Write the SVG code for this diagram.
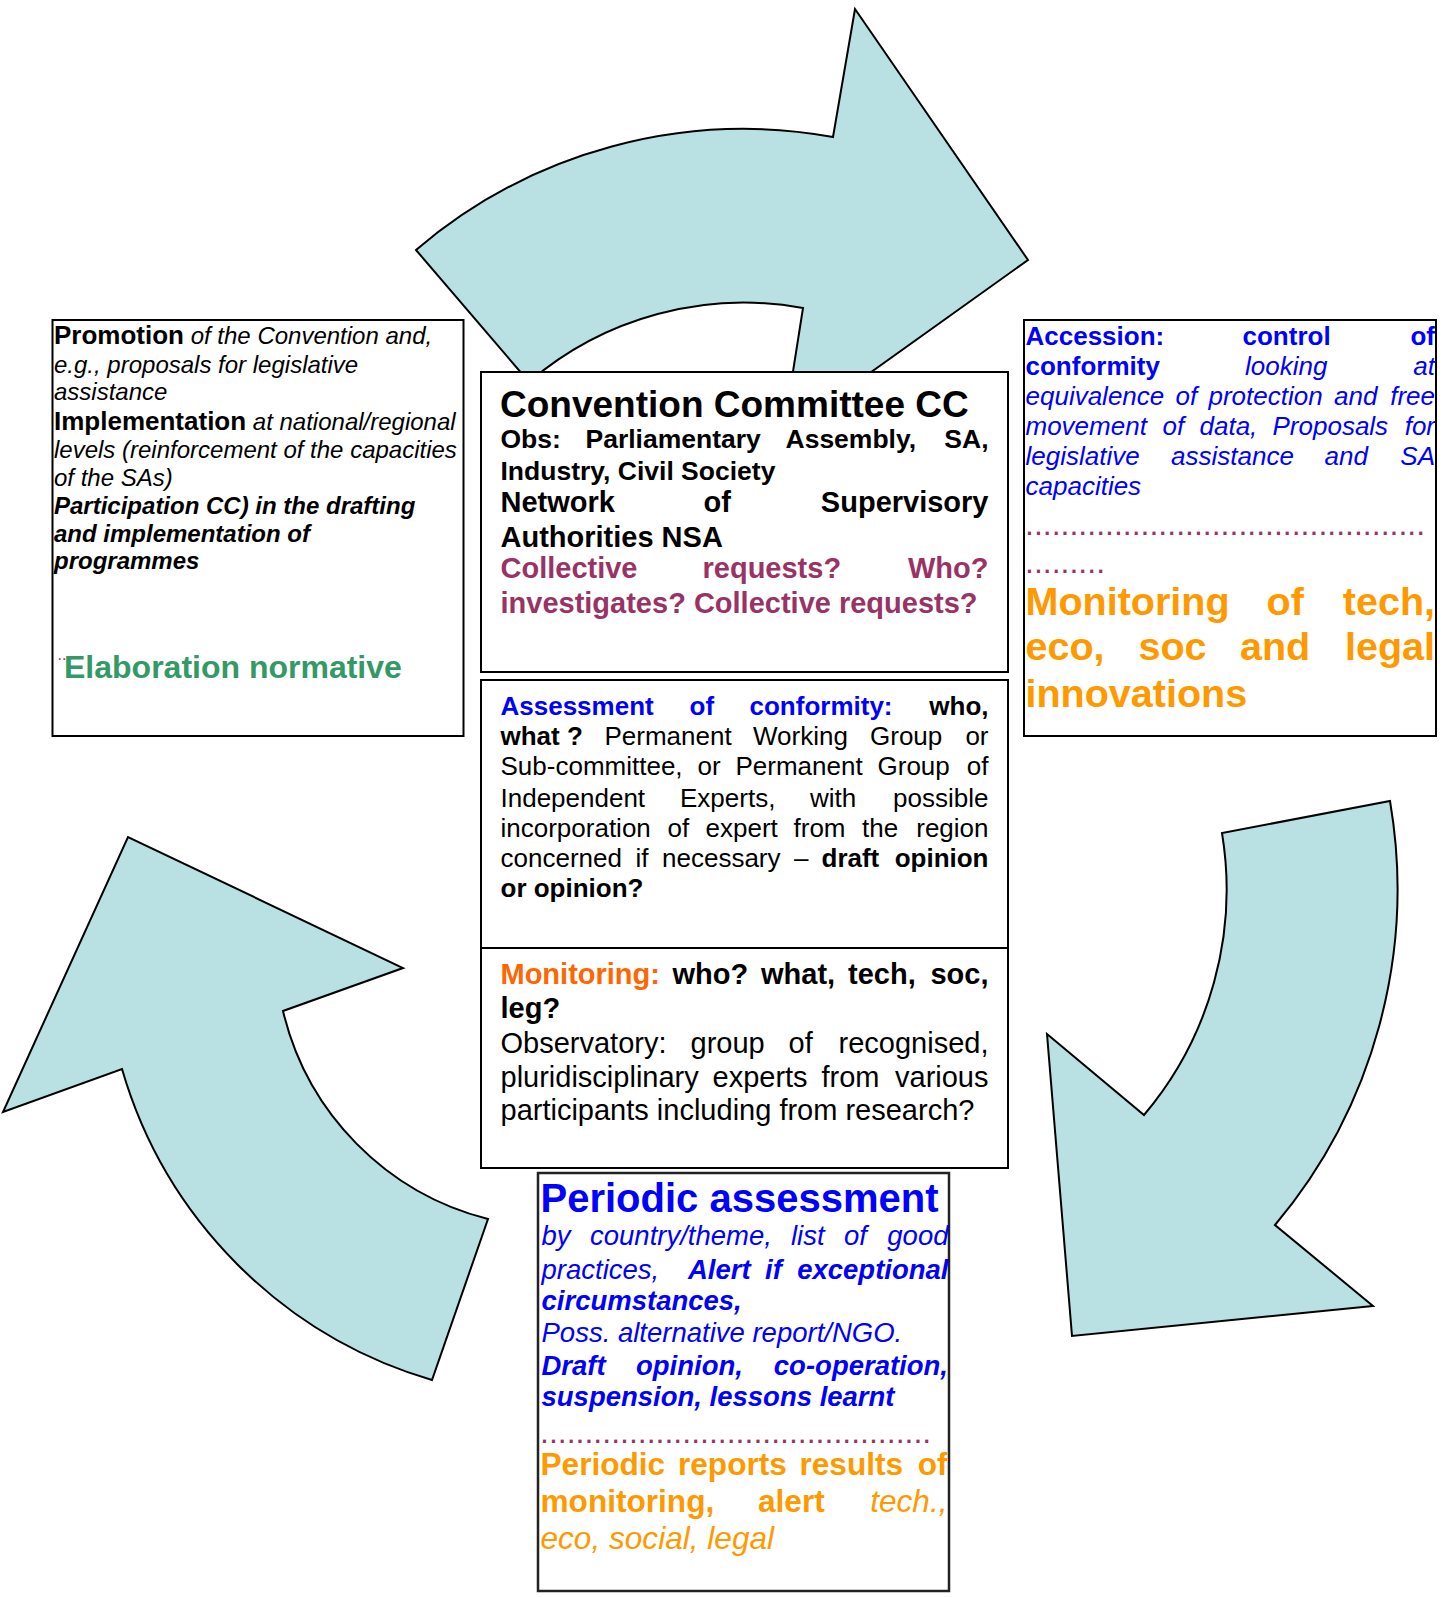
<svg xmlns="http://www.w3.org/2000/svg" width="1447" height="1597" viewBox="0 0 1447 1597">
<style>
text{font-family:"Liberation Sans",Arial,sans-serif;}
.box{fill:#ffffff;stroke:#000000;stroke-width:2;}
.arrow{fill:#B9E0E3;stroke:#000000;stroke-width:2;stroke-linejoin:miter;}
.b{font-weight:bold;}
.i{font-style:italic;}
.bl{fill:#0000FF;}
.or{fill:#FF9900;}
.or2{fill:#FF6600;}
.pu{fill:#993366;}
.gr{fill:#339966;}
.e{text-anchor:end;}
</style>
<rect width="1447" height="1597" fill="#ffffff"/>
<g id="connectors">
<path class="arrow" d="M416,250 A504,504 0 0,1 833,137 L855,9 L1028,260 L783,435 L803,308 A330,330 0 0,0 529,382 Z"/>
<path class="arrow" d="M1390,801 A522,522 0 0,1 1275,1225 L1373,1306 L1072,1336 L1047,1034 L1144,1115 A349,349 0 0,0 1222,833 Z"/>
<path class="arrow" d="M432,1380 A457,457 0 0,1 122,1069 L3,1112 L128,837 L403,968 L283,1011 A282,282 0 0,0 488,1219 Z"/>
</g>
<g id="node-promotion">
<rect class="box" x="52.5" y="320" width="411" height="416"/>
<text x="54" y="344"><tspan class="b" font-size="26">Promotion</tspan><tspan class="i" font-size="24"> of the Convention and,</tspan></text>
<text class="i" font-size="24" x="54" y="373">e.g., proposals for legislative</text>
<text class="i" font-size="24" x="54" y="400">assistance</text>
<text x="54" y="430"><tspan class="b" font-size="26">Implementation</tspan><tspan class="i" font-size="24"> at national/regional</tspan></text>
<text class="i" font-size="24" x="54" y="458">levels (reinforcement of the capacities</text>
<text class="i" font-size="24" x="54" y="486">of the SAs)</text>
<text class="b i" font-size="24" x="54" y="514">Participation CC) in the drafting</text>
<text class="b i" font-size="24" x="54" y="542">and implementation of</text>
<text class="b i" font-size="24" x="54" y="569">programmes</text>
<text class="pu" font-size="16" x="57.5" y="660">..</text>
<text class="b gr" font-size="32" x="64" y="678">Elaboration normative</text>
</g>
<g id="node-committee">
<rect class="box" x="481" y="372" width="527" height="300"/>
<text class="b" font-size="37" x="500" y="417">Convention Committee CC</text>
<g class="b" font-size="26.5">
<text x="500.5" y="448">Obs:</text><text x="585.5" y="448">Parliamentary</text><text x="785.5" y="448">Assembly,</text><text class="e" x="988.5" y="448">SA,</text>
<text x="500.5" y="480">Industry, Civil Society</text>
</g>
<g class="b" font-size="29">
<text x="500.5" y="512">Network</text><text x="703.5" y="512">of</text><text class="e" x="988.5" y="512">Supervisory</text>
<text x="500.5" y="547">Authorities NSA</text>
<text class="pu" x="500.5" y="578">Collective</text><text class="pu" x="702.5" y="578">requests?</text><text class="pu e" x="988.5" y="578">Who?</text>
<text class="pu" x="500.5" y="613">investigates? Collective requests?</text>
</g>
</g>
<g id="node-assessment">
<rect class="box" x="481" y="680" width="527" height="268"/>
<g font-size="26">
<text class="b bl" x="500.5" y="715">Assessment</text><text class="b bl" x="689.5" y="715">of</text><text class="b bl" x="749.5" y="715">conformity:</text><text class="b e" x="988.5" y="715">who,</text>
<text class="b" x="500.5" y="745">what ?</text><text x="604.5" y="745">Permanent</text><text x="753" y="745">Working</text><text x="870" y="745">Group</text><text class="e" x="988.5" y="745">or</text>
<text x="500.5" y="775">Sub-committee,</text><text x="697.5" y="775">or</text><text x="735.5" y="775">Permanent</text><text x="877.5" y="775">Group</text><text class="e" x="988.5" y="775">of</text>
<text x="500.5" y="806.5">Independent</text><text x="680" y="806.5">Experts,</text><text x="810" y="806.5">with</text><text class="e" x="988.5" y="806.5">possible</text>
<text x="500.5" y="836.5">incorporation</text><text x="667.5" y="836.5">of</text><text x="705.5" y="836.5">expert</text><text x="793.5" y="836.5">from</text><text x="862" y="836.5">the</text><text class="e" x="988.5" y="836.5">region</text>
<text x="500.5" y="866.5">concerned</text><text x="635.5" y="866.5">if</text><text x="662" y="866.5">necessary</text><text x="794" y="866.5">–</text><text class="b" x="821.5" y="866.5">draft</text><text class="b e" x="988.5" y="866.5">opinion</text>
<text class="b" x="500.5" y="896.5">or opinion?</text>
</g>
</g>
<g id="node-monitoring">
<rect class="box" x="481" y="948" width="527" height="220"/>
<g font-size="29">
<text class="b or2" x="500.5" y="984">Monitoring:</text><text class="b" x="672.5" y="984">who?</text><text class="b" x="761" y="984">what,</text><text class="b" x="848" y="984">tech,</text><text class="b e" x="988.5" y="984">soc,</text>
<text class="b" x="500.5" y="1018">leg?</text>
<text x="500.5" y="1053">Observatory:</text><text x="690.5" y="1053">group</text><text x="788.5" y="1053">of</text><text class="e" x="988.5" y="1053">recognised,</text>
<text x="500.5" y="1086.5">pluridisciplinary</text><text x="712.5" y="1086.5">experts</text><text x="821.5" y="1086.5">from</text><text class="e" x="988.5" y="1086.5">various</text>
<text x="500.5" y="1120">participants including from research?</text>
</g>
</g>
<g id="node-accession">
<rect class="box" x="1024" y="320" width="412" height="416"/>
<g font-size="26" class="bl">
<text class="b" x="1025.5" y="345">Accession:</text><text class="b" x="1242.5" y="345">control</text><text class="b e" x="1435" y="345">of</text>
<text class="b" x="1025.5" y="375">conformity</text><text class="i" x="1245" y="375">looking</text><text class="i e" x="1435" y="375">at</text>
<text class="i" x="1025.5" y="405">equivalence</text><text class="i" x="1175.5" y="405">of</text><text class="i" x="1208.5" y="405">protection</text><text class="i" x="1334" y="405">and</text><text class="i e" x="1435" y="405">free</text>
<text class="i" x="1025.5" y="435">movement</text><text class="i" x="1162.5" y="435">of</text><text class="i" x="1199.5" y="435">data,</text><text class="i" x="1272.5" y="435">Proposals</text><text class="i e" x="1435" y="435">for</text>
<text class="i" x="1025.5" y="465">legislative</text><text class="i" x="1171" y="465">assistance</text><text class="i" x="1324.5" y="465">and</text><text class="i e" x="1435" y="465">SA</text>
<text class="i" x="1025.5" y="495">capacities</text>
</g>
<text class="pu" font-size="32" x="1025" y="535">.............................................</text>
<text class="pu" font-size="32" x="1025" y="572.5">.........</text>
<g class="b or" font-size="39.5">
<text x="1025.5" y="615">Monitoring</text><text x="1266.5" y="615">of</text><text class="e" x="1435" y="615">tech,</text>
<text x="1025.5" y="660">eco,</text><text x="1138.5" y="660">soc</text><text x="1240" y="660">and</text><text class="e" x="1435" y="660">legal</text>
<text x="1025.5" y="707">innovations</text>
</g>
</g>
<g id="node-periodic">
<rect class="box" x="538" y="1173" width="411" height="418" style="stroke:#222222;stroke-width:2.5"/>
<text class="b bl" font-size="40" x="540.5" y="1212">Periodic assessment</text>
<g class="bl i" font-size="27.5">
<text x="541.5" y="1245">by</text><text x="590" y="1245">country/theme,</text><text x="791" y="1245">list</text><text x="844" y="1245">of</text><text class="e" x="948.5" y="1245">good</text>
<text x="541.5" y="1278.5">practices,</text><text class="b" x="688" y="1278.5">Alert</text><text class="b" x="765" y="1278.5">if</text><text class="b e" x="948.5" y="1278.5">exceptional</text>
<text class="b" x="541.5" y="1310">circumstances,</text>
<text x="541.5" y="1342">Poss. alternative report/NGO.</text>
<text class="b" x="541.5" y="1375">Draft</text><text class="b" x="636" y="1375">opinion,</text><text class="b e" x="948" y="1375">co-operation,</text>
<text class="b" x="541.5" y="1405.5">suspension, lessons learnt</text>
</g>
<text class="pu" font-size="32" x="540" y="1442.5">............................................</text>
<g class="or" font-size="31.6">
<text class="b" x="540.5" y="1475">Periodic</text><text class="b" x="678" y="1475">reports</text><text class="b" x="799.5" y="1475">results</text><text class="b e" x="947.5" y="1475">of</text>
<text class="b" x="540.5" y="1511.5">monitoring,</text><text class="b" x="758" y="1511.5">alert</text><text class="i e" x="947.5" y="1511.5">tech.,</text>
<text class="i" x="540.5" y="1548.5">eco, social, legal</text>
</g>
</g>
</svg>
